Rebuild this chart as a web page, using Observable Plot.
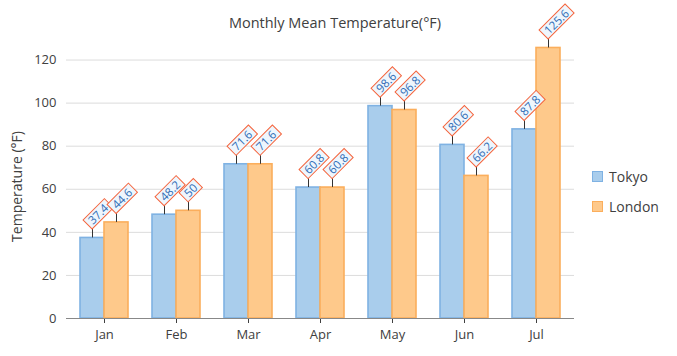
<!DOCTYPE html>
<html>
<head>
<meta charset="utf-8">
<script src="https://cdn.jsdelivr.net/npm/d3@7"></script>
<script src="https://cdn.jsdelivr.net/npm/@observablehq/plot@0.6"></script>
<style>
  body { margin: 0; background: #fff; font-family: "Open Sans", sans-serif; }
  #wrap { position: relative; width: 677px; height: 356px; }
  #title { position: absolute; left: 0; top: 13px; width: 670px; text-align: center; font-size: 14.5px; line-height: 20px; color: #404040; }
  #legend { position: absolute; left: 592px; top: 166px; font-size: 14px; color: #404040; }
  .row { display: flex; align-items: center; height: 20px; margin-bottom: 10px; }
  .sw { width: 9px; height: 9px; border: 1.5px solid; margin-right: 6px; }
</style>
</head>
<body>
<div id="wrap">
  <div id="chart"></div>
  <div id="title">Monthly Mean Temperature(°F)</div>
  <div id="legend"></div>
</div>
<script>
const months = ["Jan", "Feb", "Mar", "Apr", "May", "Jun", "Jul"];
const seriesNames = ["Tokyo", "London"];
const tokyo = [37.4, 48.2, 71.6, 60.8, 98.6, 80.6, 87.8];
const london = [44.6, 50, 71.6, 60.8, 96.8, 66.2, 125.6];
const yTicks = [0, 20, 40, 60, 80, 100, 120];
const fills = ["#a9cdec", "#fec98b"];
const strokes = ["#7fb2e3", "#fbae5c"];

const tokyoData = months.map((m, i) => ({month: m, series: "Tokyo", value: tokyo[i]}));
const londonData = months.map((m, i) => ({month: m, series: "London", value: london[i]}));

const half = 24;
const labelOpts = (off) => ({
  x: "month", y: "value", text: d => String(d.value),
  dx: off - 2, dy: -15.5, rotate: -45, textAnchor: "start",
  fill: "#2f6cb5", fontSize: 11.5
});

const plot = Plot.plot({
  width: 677, height: 356,
  marginLeft: 66, marginRight: 103, marginTop: 38, marginBottom: 38,
  style: {fontFamily: "Open Sans, sans-serif", fontSize: "13px", color: "#404040", background: "transparent", overflow: "visible"},
  x: {domain: months, paddingInner: 0.34, paddingOuter: 0.17, label: null, tickSize: 5, tickPadding: 6},
  y: {domain: [0, 130], ticks: yTicks, label: null, tickSize: 0, tickPadding: 10},
  marks: [
    Plot.ruleY(yTicks.slice(1), {stroke: "#dcdcdc", strokeWidth: 1}),
    Plot.barY(tokyoData, {x: "month", y: "value", fill: fills[0], stroke: strokes[0], strokeWidth: 1.6, insetRight: half}),
    Plot.barY(londonData, {x: "month", y: "value", fill: fills[1], stroke: strokes[1], strokeWidth: 1.6, insetLeft: half}),
    Plot.ruleY([0], {stroke: "#888", strokeWidth: 1.2}),
    Plot.ruleX(tokyoData, {x: "month", y1: "value", y2: "value", dx: -12, insetTop: -9, stroke: "#333"}),
    Plot.ruleX(londonData, {x: "month", y1: "value", y2: "value", dx: 12, insetTop: -9, stroke: "#333"}),
    Plot.text(tokyoData, labelOpts(-12)),
    Plot.text(londonData, labelOpts(12)),
    Plot.text(["Temperature (°F)"], {text: d => d, frameAnchor: "left", textAnchor: "middle", rotate: -90, dx: -49, dy: 8, fontSize: 14, fill: "#404040"})
  ]
});
document.getElementById("chart").appendChild(plot);

// boxes behind the rotated value labels
d3.select(plot).selectAll("text")
  .filter(function() {
    const t = this.getAttribute("transform") || "";
    return t.includes("rotate(-45)");
  })
  .each(function() {
    const b = this.getBBox();
    const r = document.createElementNS("http://www.w3.org/2000/svg", "rect");
    r.setAttribute("x", b.x - 3.5);
    r.setAttribute("y", b.y + 1.3);
    r.setAttribute("width", b.width + 7);
    r.setAttribute("height", b.height - 2.2);
    r.setAttribute("fill", "#eef6fd");
    r.setAttribute("stroke", "#f5643c");
    r.setAttribute("stroke-width", 1);
    r.setAttribute("transform", this.getAttribute("transform"));
    this.parentNode.insertBefore(r, this);
  });

const legend = document.getElementById("legend");
seriesNames.forEach((s, i) => {
  const row = document.createElement("div");
  row.className = "row";
  const sw = document.createElement("div");
  sw.className = "sw";
  sw.style.background = fills[i];
  sw.style.borderColor = strokes[i];
  const lab = document.createElement("span");
  lab.textContent = s;
  row.appendChild(sw); row.appendChild(lab);
  legend.appendChild(row);
});
</script>
</body>
</html>
